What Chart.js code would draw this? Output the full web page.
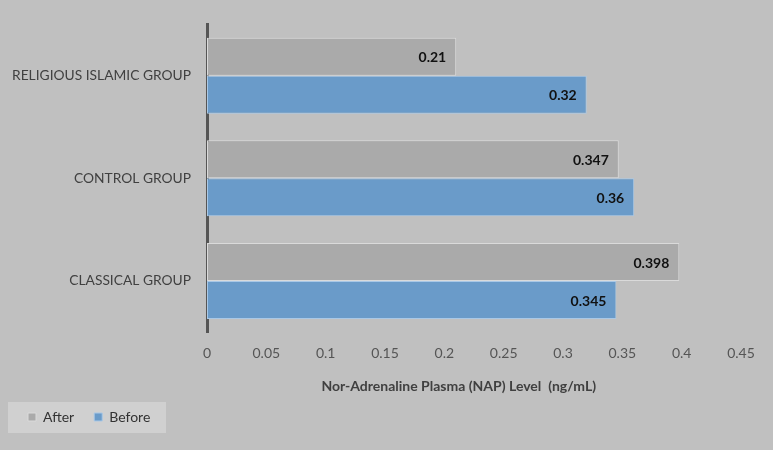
<!DOCTYPE html>
<html>
<head>
<meta charset="utf-8">
<script src="https://cdn.jsdelivr.net/npm/chart.js@4"></script>
<style>
    html, body { margin: 0; padding: 0; background: #c0c0c0; }
    #grafico { width: 773px; height: 450px; }
</style>
</head>
<body>
<div id="grafico"><canvas id="canvasNAP" width="773" height="450"></canvas></div>
<script>
var grupos = ["RELIGIOUS ISLAMIC GROUP", "CONTROL GROUP", "CLASSICAL GROUP"];
var valoresAfter = [0.21, 0.347, 0.398];
var valoresBefore = [0.32, 0.36, 0.345];
var rotulosAfter = ["0.21", "0.347", "0.398"];
var rotulosBefore = ["0.32", "0.36", "0.345"];

var fonte = "Lato, 'Open Sans', sans-serif";

// rotulos dentro da ponta das barras
var pluginRotulos = {
    id: "rotulos",
    afterDatasetsDraw: function (chart) {
        var ctx = chart.ctx;
        ctx.save();
        ctx.font = "bold 14px " + fonte;
        ctx.fillStyle = "#111";
        ctx.textAlign = "right";
        ctx.textBaseline = "middle";
        chart.data.datasets.forEach(function (ds, i) {
            var meta = chart.getDatasetMeta(i);
            meta.data.forEach(function (barra, j) {
                ctx.fillText(ds.rotulos[j], barra.x - 10, barra.y + 1);
            });
        });
        ctx.restore();
    }
};

// caixa clara atras da legenda
var pluginCaixaLegenda = {
    id: "caixaLegenda",
    beforeDraw: function (chart) {
        var ctx = chart.ctx;
        ctx.save();
        ctx.fillStyle = "#d0d0d0";
        ctx.fillRect(8, 402, 158, 31);
        ctx.restore();
    }
};

var config = {
    type: "bar",
    data: {
        labels: grupos,
        datasets: [
            {
                label: "After",
                data: valoresAfter,
                rotulos: rotulosAfter,
                backgroundColor: "#aaaaaa",
                borderColor: "#dadada",
                borderWidth: 1,
                borderSkipped: false
            },
            {
                label: "Before",
                data: valoresBefore,
                rotulos: rotulosBefore,
                backgroundColor: "#6a9bc9",
                borderColor: "#a9c8e6",
                borderWidth: 1,
                borderSkipped: false
            }
        ]
    },
    options: {
        indexAxis: "y",
        responsive: false,
        animation: false,
        categoryPercentage: 0.74,
        barPercentage: 1,
        layout: { padding: { top: 12, right: 32, left: 8, bottom: 16 } },
        plugins: {
            legend: {
                position: "bottom",
                align: "start",
                labels: {
                    color: "#333",
                    font: { family: fonte, size: 14 },
                    boxWidth: 8,
                    boxHeight: 8,
                    padding: 20
                }
            },
            tooltip: { enabled: false }
        },
        scales: {
            x: {
                min: 0,
                max: 0.45,
                ticks: {
                    stepSize: 0.05,
                    color: "#555",
                    font: { family: fonte, size: 14 },
                    padding: 13,
                    callback: function (v) { return Math.round(v * 100) / 100; }
                },
                grid: { display: false, drawTicks: false },
                border: { display: false },
                title: {
                    display: true,
                    text: "Nor-Adrenaline Plasma (NAP) Level  (ng/mL)         ",
                    color: "#404040",
                    font: { family: fonte, size: 14, weight: "bold" },
                    padding: { top: 3, bottom: -5 }
                }
            },
            y: {
                afterFit: function (escala) { escala.width = 199; },
                ticks: {
                    color: "#404040",
                    font: { family: fonte, size: 13.8 },
                    padding: 16
                },
                grid: { display: false, drawTicks: false },
                border: { display: true, color: "#555", width: 3 }
            }
        }
    },
    plugins: [pluginCaixaLegenda, pluginRotulos]
};

new Chart(document.getElementById("canvasNAP"), config);
</script>
</body>
</html>
